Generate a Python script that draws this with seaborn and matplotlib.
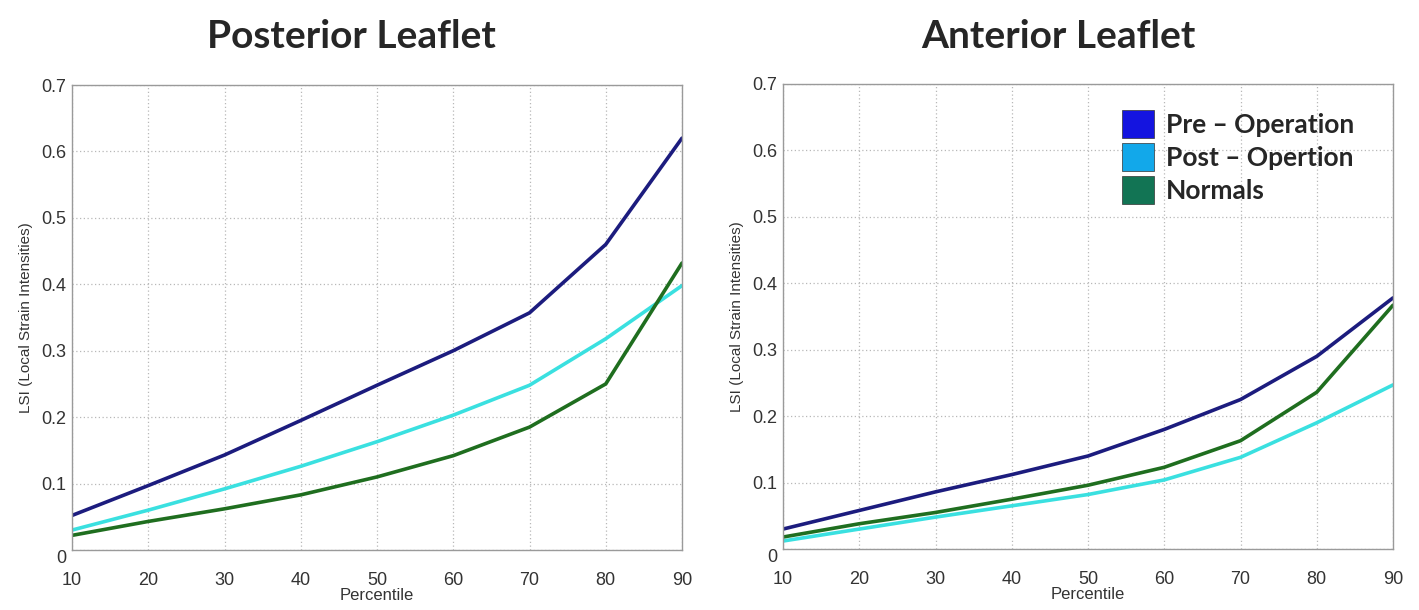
import matplotlib
matplotlib.use("Agg")
import matplotlib.pyplot as plt
import matplotlib.patches as mpatches
import seaborn as sns
import pandas as pd

percentiles = [10, 20, 30, 40, 50, 60, 70, 80, 90]
series_names = ["Pre – Operation", "Post – Opertion", "Normals"]

post_pre = [0.052, 0.097, 0.143, 0.195, 0.248, 0.300, 0.357, 0.460, 0.620]
post_post = [0.030, 0.060, 0.092, 0.126, 0.163, 0.203, 0.248, 0.318, 0.398]
post_norm = [0.022, 0.043, 0.062, 0.083, 0.110, 0.142, 0.185, 0.250, 0.432]

ant_pre = [0.030, 0.058, 0.086, 0.112, 0.140, 0.180, 0.225, 0.290, 0.378]
ant_post = [0.012, 0.030, 0.048, 0.065, 0.082, 0.104, 0.138, 0.190, 0.247]
ant_norm = [0.018, 0.038, 0.055, 0.075, 0.096, 0.123, 0.163, 0.236, 0.367]

titles = ["Posterior Leaflet", "Anterior Leaflet"]
yticks = [0, 0.1, 0.2, 0.3, 0.4, 0.5, 0.6, 0.7]
ytick_labels = ["0", "0.1", "0.2", "0.3", "0.4", "0.5", "0.6", "0.7"]

line_colors = ["#1c1c7e", "#3ae0e0", "#1f6e1f"]
patch_colors = ["#1414e0", "#12a8ea", "#127454"]

sns.set_theme(style="white")
plt.rcParams["font.family"] = ["Liberation Sans", "DejaVu Sans"]

fig = plt.figure(figsize=(14.19, 6.10), dpi=100)
W, H = 1419, 610
ax1 = fig.add_axes([72 / W, 1 - 550 / H, 610 / W, 465 / H])
ax2 = fig.add_axes([783 / W, 1 - 549 / H, 610 / W, 465 / H])

def make_df(a, b, c):
    rows = []
    for name, vals in zip(series_names, [a, b, c]):
        for p, v in zip(percentiles, vals):
            rows.append({"Percentile": p, "LSI": v, "Series": name})
    return pd.DataFrame(rows)

datasets = [make_df(post_pre, post_post, post_norm), make_df(ant_pre, ant_post, ant_norm)]

for ax, df in zip([ax1, ax2], datasets):
    sns.lineplot(data=df, x="Percentile", y="LSI", hue="Series",
                 palette=dict(zip(series_names, line_colors)),
                 linewidth=2.6, ax=ax, legend=False)
    ax.set_xlim(10, 90)
    ax.set_ylim(0, 0.7)
    ax.set_xticks(percentiles)
    ax.set_xticklabels([str(p) for p in percentiles])
    ax.set_yticks(yticks)
    ax.set_yticklabels(ytick_labels)
    ax.grid(True, linestyle=(0, (1, 2)), color="#b8b8b8", linewidth=0.9)
    for s in ax.spines.values():
        s.set_color("#9a9a9a")
        s.set_linewidth(1.0)
    ax.tick_params(axis="both", direction="in", length=4, color="#9a9a9a",
                   labelsize=13, labelcolor="#333333")
    ax.tick_params(axis="x", pad=16)
    ax.tick_params(axis="y", pad=4)
    ax.set_xlabel("Percentile", fontsize=12, color="#333333", labelpad=-1)
    ax.set_ylabel("LSI (Local Strain Intensities)", fontsize=11, color="#333333", labelpad=6)
    ylabs = ax.get_yticklabels()
    ylabs[0].set_va("top")

fig.text(351 / W, 1 - 37 / H, titles[0], ha="center", va="center",
         fontsize=28, fontweight="bold", family=["Lato", "DejaVu Sans"])
fig.text(1058 / W, 1 - 37 / H, titles[1], ha="center", va="center",
         fontsize=28, fontweight="bold", family=["Lato", "DejaVu Sans"])

handles = [mpatches.Patch(facecolor=c, edgecolor="#333333", linewidth=0.5, label=n)
           for c, n in zip(patch_colors, series_names)]
leg = ax2.legend(handles=handles, loc="upper right", bbox_to_anchor=(0.975, 0.995),
                 frameon=False, handlelength=1.2, handleheight=1.25, handletextpad=0.45,
                 labelspacing=0.2,
                 prop={"family": ["Lato", "DejaVu Sans"], "weight": "bold", "size": 19})

fig.savefig("out.png", dpi=100)
